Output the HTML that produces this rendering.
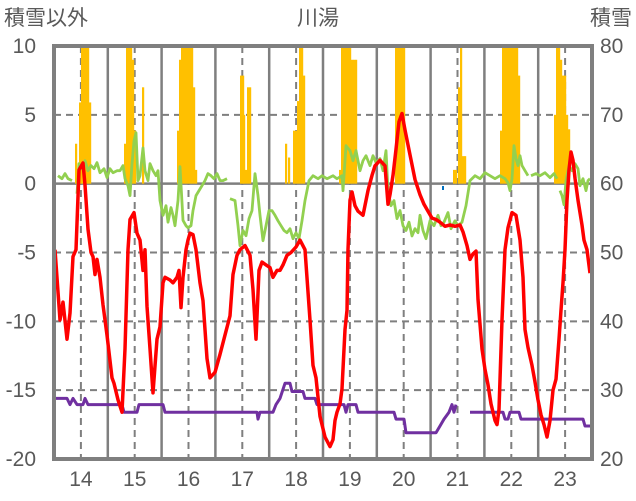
<!DOCTYPE html>
<html><head><meta charset="utf-8"><style>
html,body{margin:0;padding:0;background:#fff;}
svg{display:block;font-family:"Liberation Sans","Noto Sans CJK JP",sans-serif;}
</style></head><body>
<svg id="chart" width="636" height="501" viewBox="0 0 636 501">
<g id="grid"></g>
<g id="bars"></g>
<g id="lines"></g>
<rect x="54" y="46" width="538" height="413" fill="none" stroke="#7f7f7f" stroke-width="4"/>
<rect x="442" y="186" width="2" height="4" fill="#0070C0"/>
<g id="labels" fill="#595959" font-size="21"></g>
<text x="4" y="25" font-size="21" fill="#595959">積雪以外</text>
<text x="318" y="25" font-size="21" fill="#595959" text-anchor="middle">川湯</text>
<text x="632" y="25" font-size="21" fill="#595959" text-anchor="end">積雪</text>
</svg>
<script>
// x data: period index (0..538 across Jul-2013..Jul-2023), 53.8 units per year
const yearTicks = [14,15,16,17,18,19,20,21,22,23];
const leftTicks = [10,5,0,-5,-10,-15,-20];
const rightTicks = [80,70,60,50,40,30,20];
const redX = [1,6,9,13,16,19,22,25,29,31,34,37,39,41,43,46,49,53,58,60,64,68,71,74,76,80,83,86,89,91,93,96,99,103,106,109,111,116,119,123,125,127,129,132,134,136,139,142,146,149,151,153,156,161,166,171,176,179,183,186,191,196,199,202,205,208,212,216,219,223,226,229,233,237,242,246,251,256,259,262,266,271,276,279,281,283,286,288,291,293,294,296,298,301,304,309,314,318,321,326,331,334,336,339,342,345,348,351,356,361,366,370,374,378,382,386,391,396,401,406,409,413,416,419,422,424,428,431,434,437,441,443,445,448,451,454,458,462,466,469,471,474,478,481,484,487,490,493,496,499,502,505,507,509,511,513,515,517,519,521,524,528,530,533,536];
const redV = [-4.8,-9.9,-8.6,-11.3,-9.4,-5.3,-4.8,1,1.5,-0.1,-3.3,-5,-5.3,-6.6,-5.5,-6.8,-8.8,-11,-14.1,-14.5,-15.7,-16.6,-12,-4.8,-2.6,-2.1,-3.6,-4.1,-6.3,-4.8,-8.9,-12,-15.2,-11.3,-10.4,-7.2,-6.8,-7,-7.2,-6.8,-6.3,-9,-6.8,-4.8,-4.1,-3.6,-3.7,-4.8,-7.2,-8.5,-10.6,-12.7,-14.1,-13.7,-12.4,-11,-9.6,-6.6,-5.2,-4.8,-4.5,-5.2,-7.7,-11.3,-6.3,-5.7,-5.9,-6.1,-6.8,-6.3,-6.3,-5.9,-5.2,-5,-4.6,-4.1,-4.8,-9.9,-13.2,-14.1,-16.9,-18.4,-19.1,-18.6,-17.2,-16.6,-16,-14.9,-10.6,-9.2,-4.8,-1.2,-0.6,-1.6,-2,-2.3,-0.5,0.6,1.3,1.7,1.3,-1.5,-0.8,0.6,2.5,4.5,5.1,3.9,2.1,0.3,-0.8,-1.5,-2,-2.5,-2.6,-2.8,-3.1,-3,-3.1,-3,-3.5,-4.5,-5.5,-5.1,-4.9,-8.4,-12,-13.5,-14.6,-16,-17.2,-17.5,-16.4,-9.9,-4.8,-3.2,-2.1,-2.3,-4.1,-6.8,-10.6,-11.9,-13.2,-14.4,-15.7,-16.8,-17.5,-18.4,-17.2,-15,-14.2,-11.3,-9.2,-7.2,-4.8,-1.2,1,2.3,1.7,0.4,-1.2,-3,-4.1,-4.8,-6.5];
const greenX = [4,8,11,14,18,20,23,25,28,31,34,37,40,43,46,50,53,56,59,63,66,69,71,74,76,78,80,82,84,86,89,91,94,96,99,102,104,106,109,112,114,117,119,121,124,126,129,132,134,137,139,142,145,148,151,154,157,160,163,166,169,173,174,176,181,184,186,189,192,195,198,201,204,206,209,212,215,218,221,224,227,230,233,236,239,242,245,248,251,255,259,264,268,273,279,283,288,289,292,296,299,302,306,309,312,316,319,322,326,329,332,334,337,340,343,346,349,352,355,358,361,364,366,369,372,376,380,384,387,390,394,397,401,404,408,412,416,421,426,431,436,441,446,451,454,456,458,460,462,464,466,468,471,474,475,477,482,486,491,496,500,503,504,506,508,510,512,515,518,521,524,526,529,532,534,536];
const greenV = [0.58,0.36,0.73,0.36,0.22,null,-0.73,1.45,1.09,1.67,0.94,1.31,1.09,1.53,0.8,1.09,0.44,1.09,0.8,0.94,0.94,1.31,0.36,-0.15,-0.87,1.45,3.1,3.7,0.22,0.58,2.6,0.94,0.22,1.45,0.94,0.58,0.94,-1.23,-2.3,-1.6,-2.8,-1.74,-2.3,-3.05,-1.23,1.23,-2.66,-3.05,-3.2,-3.05,-1.96,-0.87,-0.5,-0.15,0.22,0.73,0.58,0.36,0.73,0.22,0.22,0.36,null,-1.09,-1.23,-3.05,-4.5,-3.4,-3.78,-2.54,-1.96,0.73,-0.87,-2.3,-4.14,-3.05,-1.96,-1.96,-2.3,-2.7,-3.05,-3.4,-3.56,-3.27,-4,-3.56,-4,-2.7,-1.23,0.22,0.58,0.36,0.58,0.36,0.58,0.36,0.58,-0.5,2.76,2.4,1.67,2.4,0.94,1.67,2.03,1.31,2.03,1.53,1.82,0.94,2.4,-0.5,-1.6,-1.23,-2.54,-1.96,-3.05,-3.4,-2.8,-3.8,-3.27,-3.56,-2.3,-3.4,-4,-2.7,-3.05,-2.3,-3.05,-2.8,-2.1,-3.27,-2.7,-3.05,-2.8,-1.6,0.22,0.58,0.36,0.8,0.58,0.36,0.58,0.36,0.07,-0.5,0.36,2.76,1.82,1.31,2.03,1.31,0.94,0.58,null,0.58,0.73,0.58,0.8,0.44,0.73,0.36,null,-0.5,-0.87,-1.53,0.22,1.31,0.94,1.45,1.09,-0.15,0.36,-0.5,0.22,0.36];
const purpleX = [1,13,16,19,23,29,31,34,68,70,83,85,109,111,203,204,206,219,222,226,231,236,238,249,251,261,263,290,292,294,302,304,340,342,350,352,355,382,386,390,395,398,400,402,403,416,449,451,454,456,465,467,529,531,538];
const purpleV = [-15.6,-15.6,-16.05,-15.6,-16.05,-16.05,-15.6,-16.05,-16.05,-16.6,-16.6,-16.05,-16.05,-16.6,-16.6,-17.1,-16.6,-16.6,-16.05,-15.6,-14.5,-14.5,-15.1,-15.1,-15.6,-15.6,-16.05,-16.05,-16.6,-16.05,-16.05,-16.6,-16.6,-17.1,-17.1,-18.1,-18.1,-18.1,-17.6,-17.1,-16.6,-16.05,-16.6,-16.05,null,-16.6,-16.6,-17.1,-17.1,-16.6,-16.6,-17.1,-17.1,-17.6,-17.6];
const barX = [22,26,28,30,32,34,36,71,73,75,77,79,81,89,124,126,128,130,132,134,136,138,140,142,187,189,190,192,194,196,232,235,240,242,244,246,248,250,286,288,290,292,294,295,296,298,300,302,342,344,346,348,350,400,402,405,407,409,411,447,449,451,453,455,457,459,461,463,465,501,503,505,507,509,511,513,515];
const barV = [65.8,71.8,80,80,80,80,71.8,65.8,80,80,80,78,67.7,74,67.7,78,80,80,80,80,80,80,74,62,75.7,75.7,70,62,74,74,65.8,63.8,67.7,67.7,72,80,80,75.7,62,80,80,80,80,74,80,78,78,78,80,80,80,80,80,62,62,74,80,64,64,67.7,80,80,80,80,80,80,80,80,75.7,70,80,80,78,75.7,75.7,70,67.9];

const PX0=54, PW=538, PY0=46, PH=413;
const xs = d => PX0 + d*(PW/538);
const yearX = yr => xs((yr-13.5)*53.8);
const yl = v => PY0 + (10-v)*(PH/30);
const yr = v => PY0 + (80-v)*(PH/60);
const NS='http://www.w3.org/2000/svg';
function mk(tag, attrs, parent){const e=document.createElementNS(NS,tag);for(const k in attrs)e.setAttribute(k,attrs[k]);parent.appendChild(e);return e;}

const grid=document.getElementById('grid');
[5,-5,-10,-15].forEach(v=>{
  const l=mk('line',{x1:PX0,x2:PX0+PW,y1:yl(v),y2:yl(v),stroke:'#7f7f7f','stroke-width':2,'stroke-dasharray':'7,5'},grid);
  
  
});
const zl=mk('line',{x1:PX0,x2:PX0+PW,y1:yl(0),y2:yl(0),stroke:'#7f7f7f','stroke-width':2.5},grid);


yearTicks.forEach(y=>{
  const d=mk('line',{x1:yearX(y),x2:yearX(y),y1:PY0,y2:PY0+PH,stroke:'#7f7f7f','stroke-width':2,'stroke-dasharray':'7,5'},grid);
  
  
  if(y<23){
    const s=mk('line',{x1:yearX(y+0.5),x2:yearX(y+0.5),y1:PY0,y2:PY0+PH,stroke:'#7f7f7f','stroke-width':2.5},grid);
    
    
  }
});

const bars=document.getElementById('bars');
barX.forEach((x,i)=>{
  const top=yr(barV[i]);
  const r=mk('rect',{x:xs(x)-1,y:top,width:2.2,height:yr(60)-top,fill:'#FFC000'},bars);
  
  
});

function pathFor(X,V){let s='',pen=false;X.forEach((x,i)=>{const v=V[i];if(v===null){pen=false;return;}s+=(pen?'L':'M')+xs(x).toFixed(1)+','+yl(v).toFixed(1);pen=true;});return s;}
const lines=document.getElementById('lines');
const g=mk('path',{d:pathFor(greenX,greenV),fill:'none',stroke:'#92D050','stroke-width':2.8,'stroke-linejoin':'round'},lines);


const p=mk('path',{d:pathFor(purpleX,purpleV),fill:'none',stroke:'#7030A0','stroke-width':3,'stroke-linejoin':'round'},lines);


const r=mk('path',{d:pathFor(redX,redV),fill:'none',stroke:'#FF0000','stroke-width':3.5,'stroke-linejoin':'round'},lines);



const labels=document.getElementById('labels');
leftTicks.forEach(v=>{
  const t=mk('text',{x:36,y:yl(v)+7,'text-anchor':'end'},labels);t.textContent=v;
  
  
});
rightTicks.forEach(v=>{
  const t=mk('text',{x:600,y:yr(v)+7},labels);t.textContent=v;
  
  
});
yearTicks.forEach(y=>{
  const t=mk('text',{x:yearX(y),y:486,'text-anchor':'middle'},labels);t.textContent=y;
  
  
});
</script>
</body></html>
